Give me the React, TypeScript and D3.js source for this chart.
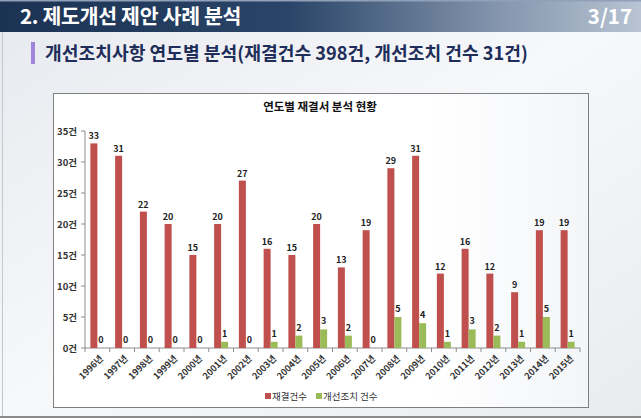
import React from "react";
import * as d3 from "d3";

const years = ["1996년","1997년","1998년","1999년","2000년","2001년","2002년","2003년","2004년","2005년","2006년","2007년","2008년","2009년","2010년","2011년","2012년","2013년","2014년","2015년"];
const decisions = [33,31,22,20,15,20,27,16,15,20,13,19,29,31,12,16,12,9,19,19];
const improvements = [0,0,0,0,0,1,0,1,2,3,2,0,5,4,1,3,2,1,5,1];
const yTicks = [0,5,10,15,20,25,30,35];
const seriesNames = ["재결건수","개선조치 건수"];
const headerTitle = "2. 제도개선 제안 사례 분석";
const pageNo = "3/17";
const subTitle = "개선조치사항 연도별 분석(재결건수 398건, 개선조치 건수 31건)";
const chartTitle = "연도별 재결서 분석 현황";

const RED = "#c0504d";
const GREEN = "#9bbb59";
const FONT = "'Noto Sans CJK KR', 'Noto Sans', sans-serif";

export default function App() {
  const W = 641, H = 418;
  const left = 85, right = 580, top = 131, bottom = 348;
  const x = d3.scaleBand<string>().domain(years).range([left, right]).paddingInner(0).paddingOuter(0);
  const y = d3.scaleLinear().domain([0, 35]).range([bottom, top]);
  const bw = x.bandwidth();
  const barW = 7;
  const inner = d3.scaleBand<number>().domain([0, 1]).range([bw / 2 - barW, bw / 2 + barW]);

  return (
    <svg width={W} height={H} style={{ position: "absolute", left: 0, top: 0, fontFamily: FONT }}>
      <defs>
        <linearGradient id="hdr" x1="0" x2="1" y1="0" y2="0">
          <stop offset="0" stopColor="#1b3253" />
          <stop offset="0.45" stopColor="#2a4568" />
          <stop offset="0.75" stopColor="#7d8fa8" />
          <stop offset="1" stopColor="#b8c4d3" />
        </linearGradient>
        <linearGradient id="bg" x1="0" x2="1" y1="0" y2="1">
          <stop offset="0" stopColor="#e6e9ee" />
          <stop offset="0.5" stopColor="#f7f8fa" />
          <stop offset="1" stopColor="#e9ebee" />
        </linearGradient>
        <linearGradient id="box" x1="0" x2="1" y1="0" y2="0">
          <stop offset="0" stopColor="#ffffff" />
          <stop offset="0.7" stopColor="#ffffff" />
          <stop offset="1" stopColor="#f3f5f8" />
        </linearGradient>
      </defs>
      <rect x={0} y={0} width={W} height={H} fill="url(#bg)" />
      <rect x={0} y={0} width={W} height={32} fill="url(#hdr)" />
      <rect x={0} y={0} width={W} height={1.5} fill="#8fa0b8" />
      <text x={20} y={24} fill="#ffffff" fontSize={20.5} fontWeight={700} letterSpacing={-0.3}>{headerTitle}</text>
      <text x={632} y={24} fill="#ffffff" fontSize={20.5} fontWeight={700} textAnchor="end">{pageNo}</text>

      <line x1={2.5} x2={2.5} y1={32} y2={H} stroke="#c4c7cc" />
      <rect x={31} y={42} width={4} height={22} fill="#9f86dc" />
      <text x={45} y={60} fill="#1e2d59" fontSize={18.2} fontWeight={700}>{subTitle}</text>

      <rect x={53.5} y={93.5} width={535} height={314} fill="url(#box)" stroke="#7f7f7f" strokeWidth={1} />
      <text x={320} y={111} fontSize={11.5} fontWeight={700} fill="#111" textAnchor="middle">{chartTitle}</text>

      {/* y axis */}
      <line x1={left} x2={left} y1={top} y2={bottom} stroke="#8c8c8c" />
      {yTicks.map(t => (
        <g key={t}>
          <line x1={left - 4} x2={left} y1={y(t)} y2={y(t)} stroke="#8c8c8c" />
          <text x={left - 8} y={y(t) + 3.5} fontSize={9.5} fontWeight={700} fill="#333" textAnchor="end">{t}건</text>
        </g>
      ))}
      {/* x axis */}
      <line x1={left} x2={right} y1={bottom} y2={bottom} stroke="#8c8c8c" />
      {years.map((yr, i) => (
        <line key={"t" + i} x1={x(yr)!} x2={x(yr)!} y1={bottom} y2={bottom + 4} stroke="#8c8c8c" />
      ))}
      <line x1={right} x2={right} y1={bottom} y2={bottom + 4} stroke="#8c8c8c" />
      {years.map(yr => {
        const cx = x(yr)! + bw / 2 + 4;
        const cy = bottom + 9;
        return (
          <text key={"l" + yr} transform={`translate(${cx},${cy}) rotate(-45)`} fontSize={9} fontWeight={700} fill="#333" textAnchor="end" dy="0.35em">{yr}</text>
        );
      })}

      {/* bars */}
      {years.map((yr, i) => {
        const x0 = x(yr)!;
        const rx = x0 + inner(0)!;
        const gx = x0 + inner(1)!;
        const rv = decisions[i];
        const gv = improvements[i];
        return (
          <g key={"b" + yr}>
            <rect x={rx} y={y(rv)} width={barW} height={bottom - y(rv)} fill={RED} />
            <rect x={gx} y={y(gv)} width={barW} height={bottom - y(gv)} fill={GREEN} />
            <text x={rx + barW / 2} y={y(rv) - 4} fontSize={9} fontWeight={700} fill="#222" textAnchor="middle">{rv}</text>
            <text x={gx + barW / 2} y={y(gv) - 5} fontSize={9} fontWeight={700} fill="#222" textAnchor="middle">{gv}</text>
          </g>
        );
      })}

      {/* legend */}
      <rect x={265} y={393} width={6} height={6} fill={RED} />
      <text x={272} y={399.5} fontSize={9.5} fill="#333">{seriesNames[0]}</text>
      <rect x={316} y={393} width={6} height={6} fill={GREEN} />
      <text x={323} y={399.5} fontSize={9.5} fill="#333">{seriesNames[1]}</text>

      <rect x={0} y={416} width={W} height={2} fill="#8a8a8a" />
    </svg>
  );
}
